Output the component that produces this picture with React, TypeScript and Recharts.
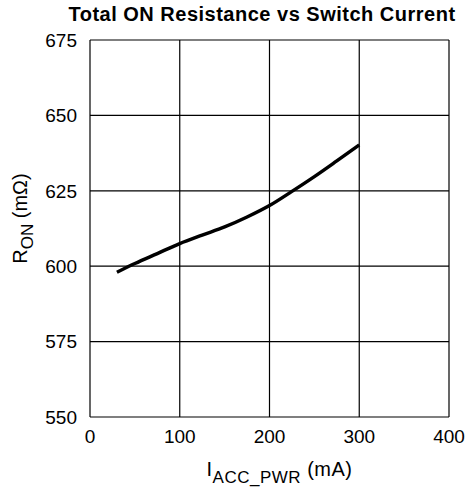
import React from "react";
import { LineChart, Line, XAxis, YAxis, CartesianGrid } from "recharts";

const currents = [30, 50, 75, 100, 125, 150, 175, 200, 225, 250, 275, 300];
const resistance = [598.0, 600.9, 604.2, 607.5, 610.3, 613.0, 616.3, 620.1, 624.8, 629.7, 634.9, 640.2];
const xTicks = [0, 100, 200, 300, 400];
const yTicks = [550, 575, 600, 625, 650, 675];

const data = currents.map((c, i) => ({ x: c, r: resistance[i] }));

const FONT = "'Liberation Sans', Arial, Helvetica, sans-serif";

const XLabel = (props: any) => {
  const vb = props.viewBox || {};
  const cx = vb.x + vb.width / 2 + 10;
  const y = vb.y + 59;
  return (
    <text x={cx} y={y} textAnchor="middle" fontFamily={FONT} fontSize={20} fill="#000" letterSpacing={0.5}>
      <tspan>I</tspan>
      <tspan fontSize={17} dy={7}>ACC_PWR</tspan>
      <tspan dy={-7}> (mA)</tspan>
    </text>
  );
};

const YLabel = (props: any) => {
  const vb = props.viewBox || {};
  const x = 27;
  const cy = vb.y + vb.height / 2 - 10;
  return (
    <text
      x={x}
      y={cy}
      transform={`rotate(-90, ${x}, ${cy})`}
      textAnchor="middle"
      fontFamily={FONT}
      fontSize={20}
      fill="#000"
    >
      <tspan>R</tspan>
      <tspan fontSize={17} dy={6}>ON</tspan>
      <tspan dy={-6}> (mΩ)</tspan>
    </text>
  );
};

export default function App() {
  return (
    <div style={{ position: "absolute", left: 0, top: 0, width: 472, height: 487, background: "#fff" }}>
      <svg width={472} height={487} style={{ position: "absolute", left: 0, top: 0 }}>
        <text x={262} y={21} textAnchor="middle" fontFamily={FONT} fontWeight="bold" fontSize={20} letterSpacing={0.5} fill="#000">
          Total ON Resistance vs Switch Current
        </text>
      </svg>
      <div style={{ position: "absolute", left: 0, top: 0 }}>
        <LineChart
          width={472}
          height={487}
          data={data}
          margin={{ top: 40, right: 23, bottom: 40, left: 30 }}
        >
          <CartesianGrid stroke="#000" strokeWidth={1.2} horizontalValues={yTicks} verticalValues={xTicks} />
          <XAxis
            type="number"
            dataKey="x"
            domain={[0, 400]}
            ticks={xTicks}
            height={30}
            axisLine={false}
            tickLine={false}
            tickSize={0}
            tickMargin={13}
            tick={{ fill: "#000", fontSize: 19, fontFamily: FONT }}
            label={<XLabel />}
          />
          <YAxis
            type="number"
            domain={[550, 675]}
            ticks={yTicks}
            width={60}
            axisLine={false}
            tickLine={false}
            tickSize={0}
            tickMargin={13}
            tick={{ fill: "#000", fontSize: 19, fontFamily: FONT }}
            label={<YLabel />}
          />
          <Line
            type="monotone"
            dataKey="r"
            stroke="#000"
            strokeWidth={3.5}
            dot={false}
            isAnimationActive={false}
          />
        </LineChart>
      </div>
    </div>
  );
}
